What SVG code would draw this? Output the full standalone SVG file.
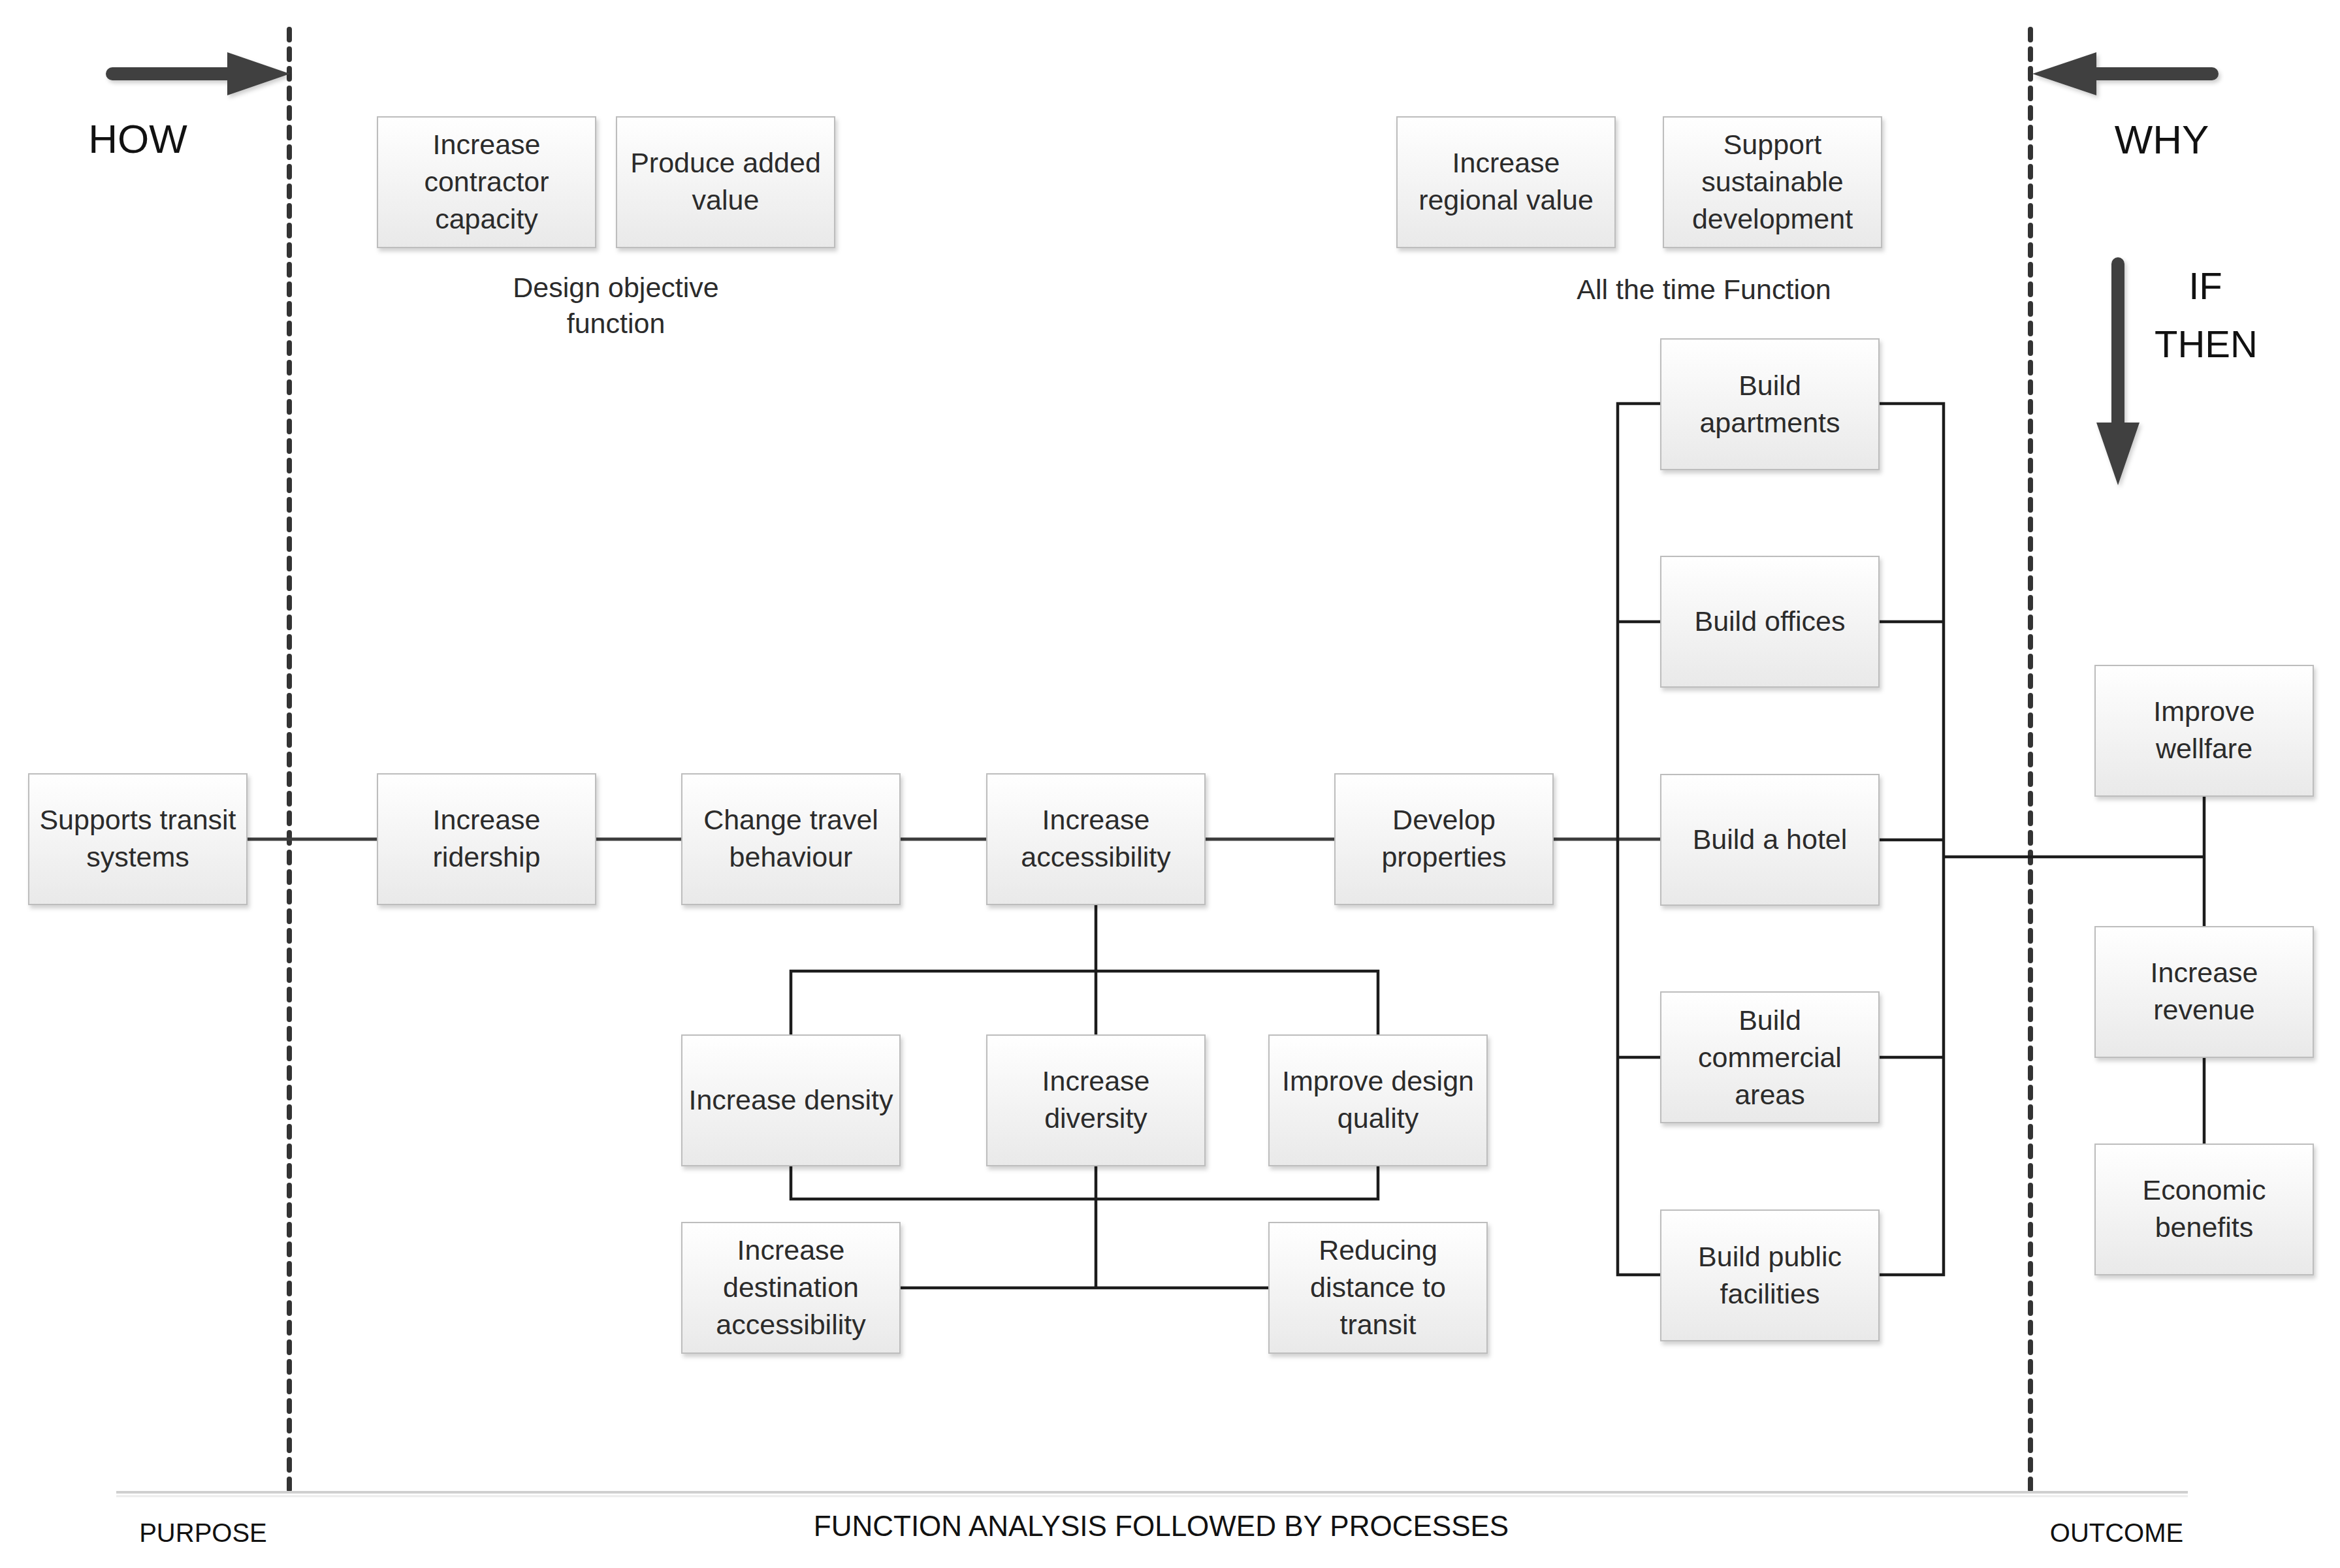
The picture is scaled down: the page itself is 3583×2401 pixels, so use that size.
<svg xmlns="http://www.w3.org/2000/svg" width="3583" height="2401" viewBox="0 0 3583 2401">
<style>
.box{fill:url(#g);stroke:#bdbdbd;stroke-width:2;filter:url(#sh)}
.t{font-family:"Liberation Sans",Arial,sans-serif;font-size:43px;fill:#2b2b2b;text-anchor:middle}
.big{font-family:"Liberation Sans",Arial,sans-serif;fill:#111;text-anchor:middle}
.c{fill:none;stroke:#1c1c1c;stroke-width:4.5}
.m{fill:none;stroke:#3c3c3c;stroke-width:5}
.dash{stroke:#333;stroke-width:8;stroke-dasharray:16 14;stroke-linecap:round}
.arw{fill:#404040}
</style>
<defs>
<linearGradient id="g" x1="0" y1="0" x2="0" y2="1">
<stop offset="0" stop-color="#ffffff"/>
<stop offset="1" stop-color="#e9e9e9"/>
</linearGradient>
<filter id="sh" x="-10%" y="-10%" width="125%" height="130%">
<feDropShadow dx="3" dy="5" stdDeviation="3" flood-color="#000" flood-opacity="0.18"/>
</filter>
<filter id="ash" x="-20%" y="-50%" width="140%" height="200%">
<feDropShadow dx="3" dy="4" stdDeviation="3" flood-color="#000" flood-opacity="0.2"/>
</filter>
</defs>
<rect width="3583" height="2401" fill="#fff"/>

<g id="guides">
<line class="dash" x1="443" y1="45" x2="443" y2="2285"/>
<line class="dash" x1="3109" y1="45" x2="3109" y2="2285"/>
<line x1="178" y1="2285" x2="3350" y2="2285" stroke="#cfcfcf" stroke-width="4"/>
<line x1="178" y1="2291" x2="3350" y2="2291" stroke="#ececec" stroke-width="3"/>
</g>

<g id="how-arrow" filter="url(#ash)">
<line x1="172" y1="113" x2="352" y2="113" stroke="#404040" stroke-width="20" stroke-linecap="round"/>
<polygon class="arw" points="348,80 444,113 348,146"/>
</g>
<g id="why-arrow" filter="url(#ash)">
<line x1="3387" y1="113" x2="3206" y2="113" stroke="#404040" stroke-width="20" stroke-linecap="round"/>
<polygon class="arw" points="3210,80 3112,113 3210,146"/>
</g>
<g id="ifthen-arrow" filter="url(#ash)">
<line x1="3243" y1="404" x2="3243" y2="652" stroke="#404040" stroke-width="20" stroke-linecap="round"/>
<polygon class="arw" points="3210,647 3276,647 3243,743"/>
</g>

<g id="labels">
<text class="big" x="211" y="234" font-size="62">HOW</text>
<text class="big" x="3310" y="235" font-size="62">WHY</text>
<text class="big" x="3377" y="458" font-size="58">IF</text>
<text class="big" x="3378" y="547" font-size="58">THEN</text>
<text class="t" x="943" y="455">Design objective</text>
<text class="t" x="943" y="510">function</text>
<text class="t" x="2609" y="458">All the time Function</text>
<text class="big" x="311" y="2361" font-size="40" fill="#222">PURPOSE</text>
<text class="big" x="1778" y="2352" font-size="44" fill="#222">FUNCTION ANALYSIS FOLLOWED BY PROCESSES</text>
<text class="big" x="3241" y="2361" font-size="40" fill="#222">OUTCOME</text>
</g>

<g id="connectors">
<path class="m" d="M378 1285H578M912 1285H1044M1377 1285H1511M1843 1285H2045M2377 1285H2543"/>
<path class="c" d="M1678 1386V1585M1211 1585V1487H2110V1585"/>
<path class="c" d="M1211 1786V1836H2110V1786M1678 1786V1972M1377 1972H1944"/>
<path class="c" d="M2543 618H2477V1952H2543M2477 952H2543M2477 1619H2543"/>
<path class="c" d="M2877 618H2976V1952H2877M2877 952H2976M2877 1286H2976M2877 1619H2976"/>
<path class="c" d="M2976 1312H3375M3375 1217V1418M3375 1619V1752"/>
</g>

<g id="n-contractor"><rect class="box" x="578" y="179" width="334" height="200"/>
<text class="t" x="745" y="236">Increase</text><text class="t" x="745" y="293">contractor</text><text class="t" x="745" y="350">capacity</text></g>
<g id="n-added"><rect class="box" x="944" y="179" width="334" height="200"/>
<text class="t" x="1111" y="264">Produce added</text><text class="t" x="1111" y="321">value</text></g>
<g id="n-regional"><rect class="box" x="2139" y="179" width="334" height="200"/>
<text class="t" x="2306" y="264">Increase</text><text class="t" x="2306" y="321">regional value</text></g>
<g id="n-sustainable"><rect class="box" x="2547" y="179" width="334" height="200"/>
<text class="t" x="2714" y="236">Support</text><text class="t" x="2714" y="293">sustainable</text><text class="t" x="2714" y="350">development</text></g>

<g id="n-apartments"><rect class="box" x="2543" y="519" width="334" height="200"/>
<text class="t" x="2710" y="605">Build</text><text class="t" x="2710" y="662">apartments</text></g>
<g id="n-offices"><rect class="box" x="2543" y="852" width="334" height="200"/>
<text class="t" x="2710" y="966">Build offices</text></g>
<g id="n-hotel"><rect class="box" x="2543" y="1186" width="334" height="200"/>
<text class="t" x="2710" y="1300">Build a hotel</text></g>
<g id="n-commercial"><rect class="box" x="2543" y="1519" width="334" height="200"/>
<text class="t" x="2710" y="1577">Build</text><text class="t" x="2710" y="1634">commercial</text><text class="t" x="2710" y="1691">areas</text></g>
<g id="n-public"><rect class="box" x="2543" y="1853" width="334" height="200"/>
<text class="t" x="2710" y="1939">Build public</text><text class="t" x="2710" y="1996">facilities</text></g>

<g id="n-transit"><rect class="box" x="44" y="1185" width="334" height="200"/>
<text class="t" x="211" y="1270">Supports transit</text><text class="t" x="211" y="1327">systems</text></g>
<g id="n-ridership"><rect class="box" x="578" y="1185" width="334" height="200"/>
<text class="t" x="745" y="1270">Increase</text><text class="t" x="745" y="1327">ridership</text></g>
<g id="n-travel"><rect class="box" x="1044" y="1185" width="334" height="200"/>
<text class="t" x="1211" y="1270">Change travel</text><text class="t" x="1211" y="1327">behaviour</text></g>
<g id="n-accessibility"><rect class="box" x="1511" y="1185" width="334" height="200"/>
<text class="t" x="1678" y="1270">Increase</text><text class="t" x="1678" y="1327">accessibility</text></g>
<g id="n-develop"><rect class="box" x="2044" y="1185" width="334" height="200"/>
<text class="t" x="2211" y="1270">Develop</text><text class="t" x="2211" y="1327">properties</text></g>

<g id="n-density"><rect class="box" x="1044" y="1585" width="334" height="200"/>
<text class="t" x="1211" y="1699">Increase density</text></g>
<g id="n-diversity"><rect class="box" x="1511" y="1585" width="334" height="200"/>
<text class="t" x="1678" y="1670">Increase</text><text class="t" x="1678" y="1727">diversity</text></g>
<g id="n-design"><rect class="box" x="1943" y="1585" width="334" height="200"/>
<text class="t" x="2110" y="1670">Improve design</text><text class="t" x="2110" y="1727">quality</text></g>
<g id="n-destination"><rect class="box" x="1044" y="1872" width="334" height="200"/>
<text class="t" x="1211" y="1929">Increase</text><text class="t" x="1211" y="1986">destination</text><text class="t" x="1211" y="2043">accessibility</text></g>
<g id="n-distance"><rect class="box" x="1943" y="1872" width="334" height="200"/>
<text class="t" x="2110" y="1929">Reducing</text><text class="t" x="2110" y="1986">distance to</text><text class="t" x="2110" y="2043">transit</text></g>

<g id="n-wellfare"><rect class="box" x="3208" y="1019" width="334" height="200"/>
<text class="t" x="3375" y="1104">Improve</text><text class="t" x="3375" y="1161">wellfare</text></g>
<g id="n-revenue"><rect class="box" x="3208" y="1419" width="334" height="200"/>
<text class="t" x="3375" y="1504">Increase</text><text class="t" x="3375" y="1561">revenue</text></g>
<g id="n-economic"><rect class="box" x="3208" y="1752" width="334" height="200"/>
<text class="t" x="3375" y="1837">Economic</text><text class="t" x="3375" y="1894">benefits</text></g>
</svg>
